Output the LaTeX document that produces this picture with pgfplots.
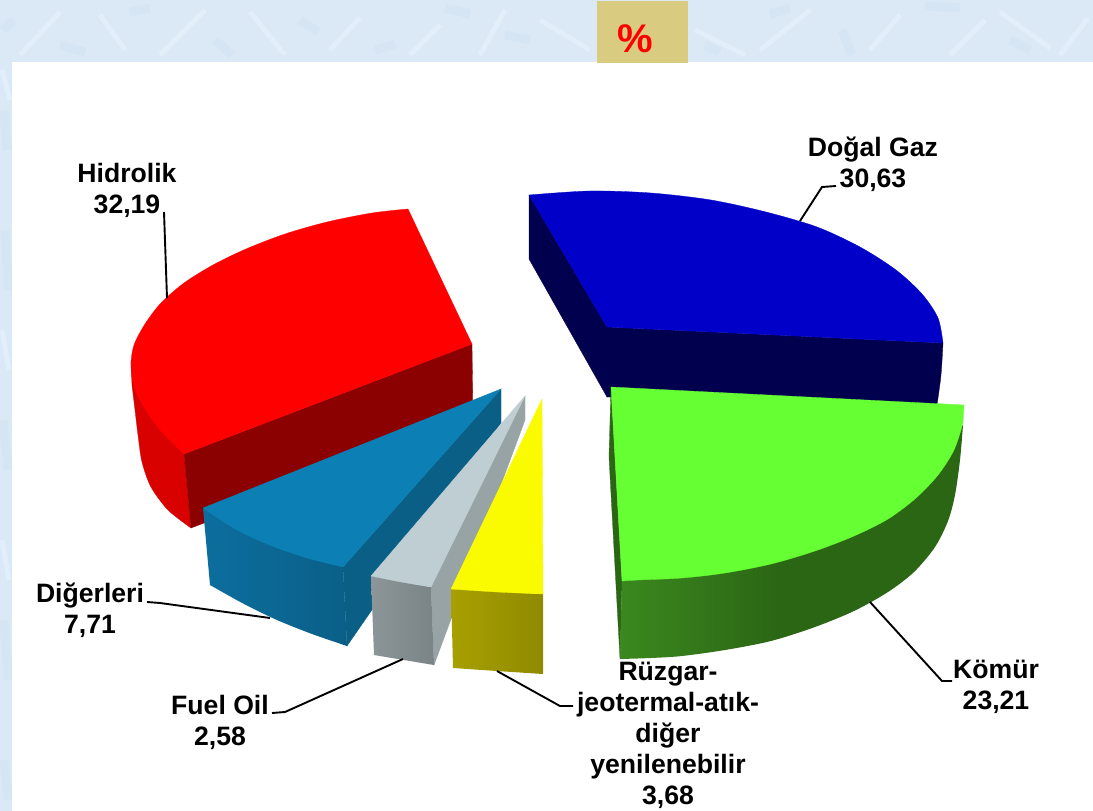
\documentclass[border=0pt]{standalone}
\usepackage{pgfplots}
\pgfplotsset{compat=1.18}
\usepackage{fontspec}
\setmainfont{Liberation Sans}
\definecolor{bgblue}{HTML}{DBE9F6}
\definecolor{bglight}{HTML}{E9F3FC}
\definecolor{bgdark}{HTML}{CDE0F1}
\definecolor{tanbox}{HTML}{D9CC80}
\definecolor{redtop}{HTML}{FF0000}
\definecolor{redside}{HTML}{D90000}
\definecolor{redfront}{HTML}{8B0000}
\definecolor{navytop}{HTML}{0000C8}
\definecolor{navyside}{HTML}{00004F}
\definecolor{greentop}{HTML}{66FF33}
\definecolor{greenA}{HTML}{3B881F}
\definecolor{greenB}{HTML}{2B6614}
\definecolor{bluetop}{HTML}{0C80B4}
\definecolor{blueA}{HTML}{0C6E9E}
\definecolor{blueB}{HTML}{0A5F87}
\definecolor{graytop}{HTML}{BFCED2}
\definecolor{grayside}{HTML}{97A3A4}
\definecolor{grayA}{HTML}{8C9698}
\definecolor{grayB}{HTML}{7A8486}
\definecolor{yellowtop}{HTML}{FBFB00}
\definecolor{yellowA}{HTML}{A8A000}
\definecolor{yellowB}{HTML}{8F8A00}
% left part of the green rim fades, the rest is flat
\pgfdeclarehorizontalshading{greenside}{100bp}{color(0bp)=(greenA); color(25bp)=(greenA); color(48bp)=(greenB); color(100bp)=(greenB)}
\pgfplotsset{
  face/.style={fill=#1,draw=#1,line width=0.3pt,mark=none},
  lead/.style={draw=black,line width=1.9pt,mark=none},
}
\newcommand{\lab}[3]{\node[align=center,font=\fontsize{26.6}{31}\selectfont\bfseries,inner sep=0pt] at (axis cs:#1,#2) {#3};}
\begin{document}
\begin{tikzpicture}
\begin{axis}[
  width=1093pt,height=811pt,scale only axis,
  xmin=0,xmax=1093,ymin=0,ymax=811,y dir=reverse,
  axis lines=none,enlargelimits=false,
  unbounded coords=jump,
]
% background and panel
\addplot[face=bgblue] coordinates {(0,0) (1093,0) (1093,811) (0,811)} --cycle;
\addplot[draw=bgdark,line width=9pt,opacity=0.35,mark=none] coordinates {
 (3,30) (14,20) (nan,nan) (60,45) (85,52) (nan,nan) (130,12) (150,8) (nan,nan) (215,40) (232,55) (nan,nan)
 (300,20) (318,32) (nan,nan) (375,50) (395,44) (nan,nan) (445,8) (470,14) (nan,nan) (505,35) (530,40) (nan,nan)
 (705,45) (720,52) (nan,nan) (770,14) (790,8) (nan,nan) (842,30) (852,55) (nan,nan) (925,6) (960,8) (nan,nan)
 (1010,40) (1030,50) (nan,nan) (4,110) (7,150) (nan,nan) (5,230) (8,290) (nan,nan) (3,420) (8,470) (nan,nan) (4,620) (8,680) (nan,nan) (4,760) (8,800)};
\addplot[draw=bglight,line width=5pt,opacity=0.5,mark=none] coordinates {
 (20,55) (60,12) (nan,nan) (100,15) (125,50) (nan,nan) (160,55) (205,10) (nan,nan) (250,12) (285,55) (nan,nan)
 (330,50) (360,18) (nan,nan) (410,55) (440,25) (nan,nan) (480,55) (505,10) (nan,nan) (540,20) (590,50) (nan,nan)
 (695,30) (745,55) (nan,nan) (760,50) (810,10) (nan,nan) (870,50) (900,15) (nan,nan) (950,55) (985,20) (nan,nan)
 (1000,12) (1050,48) (nan,nan) (1060,55) (1088,18) (nan,nan) (2,70) (10,100) (nan,nan) (2,330) (9,370) (nan,nan) (2,540) (9,580)};
\addplot[face=white] coordinates {(12,62) (1092,62) (1092,811) (12,811)} --cycle;
\addplot[face=tanbox] coordinates {(597,1) (687,1) (687,62) (597,62)} --cycle;
% Hidrolik
\addplot[face=redside,smooth] coordinates {(132,385) (135,410) (138,435) (142,462) (151,487) (168,510) (191,528)} -- (axis cs:184,454) -- (axis cs:131,362) -- cycle;
\addplot[face=redfront] coordinates {(184,454) (472,344) (473,420) (191,528)} --cycle;
\addplot[face=redtop,smooth] coordinates {(408,209) (372,213) (327,222) (285,234) (246,249) (213,265) (184,283) (161,303) (145,324) (134,345) (131,365) (134,387) (145,409) (161,431) (184,454)} -- (axis cs:472,344) -- cycle;
% Diğerleri
\addplot[face=blueB] coordinates {(501,389) (501,423) (347,646) (343,567)} --cycle;
\addplot[left color=blueA,right color=blueB,draw=none,mark=none,smooth] coordinates {(210,585) (244,604) (277,620) (312,634) (347,646)} -- (axis cs:343,567) -- (axis cs:203,508) -- cycle;
\addplot[face=bluetop,smooth] coordinates {(203,508) (237,530) (272,546) (307,558) (343,567)} -- (axis cs:501,389) -- cycle;
% Fuel Oil
\addplot[face=grayside] coordinates {(525,396) (525,420) (434,665) (431,587)} --cycle;
\addplot[left color=grayA,right color=grayB,draw=none,mark=none,smooth] coordinates {(374,655) (404,660) (434,665)} -- (axis cs:431,587) -- (axis cs:371,576) -- cycle;
\addplot[face=graytop,smooth] coordinates {(371,576) (401,582) (431,587)} -- (axis cs:525,396) -- cycle;
% Rüzgar
\addplot[left color=yellowA,right color=yellowB,draw=none,mark=none,smooth] coordinates {(453,668) (497,671) (543,674)} -- (axis cs:543,594) -- (axis cs:451,589) -- cycle;
\addplot[face=yellowtop,smooth] coordinates {(451,589) (497,592) (543,594)} -- (axis cs:542,399) -- cycle;
% Doğal Gaz
\addplot[face=navyside] coordinates {(529,195) (529,259) (607,397) (607,327)} --cycle;
\addplot[face=navyside,smooth] coordinates {(943,343) (941,375) (937,405)} -- (axis cs:607,397) -- (axis cs:607,327) -- cycle;
\addplot[face=navytop,smooth] coordinates {(529,195) (590,191) (651,193) (711,200) (766,212) (817,227) (860,247) (896,270) (922,294) (938,318) (943,343)} -- (axis cs:607,327) -- cycle;
% Kömür
\addplot[face=greenB] coordinates {(611,387) (609,457) (620,659) (622,581)} --cycle;
\addplot[shading=greenside,draw=none,mark=none,smooth] coordinates {(963,425) (960,460) (955,495) (948,521) (935,547) (914,572) (888,592) (854,611) (815,627) (771,641) (725,650) (682,656) (651,658) (620,659)} -- (axis cs:622,581) -- (axis cs:800,500) -- cycle;
\addplot[face=greentop,smooth] coordinates {(963,423) (954,450) (938,475) (916,498) (888,519) (854,536) (815,551) (771,564) (725,573) (682,578) (638,580) (622,581)} -- (axis cs:611,387) -- (axis cs:964,405) -- cycle;
% leader lines
\addplot[lead] coordinates {(800,221) (822,187) (836,186)};
\addplot[lead] coordinates {(164,212) (167,298)};
\addplot[lead] coordinates {(147,602) (160,603) (270,618)};
\addplot[lead] coordinates {(272,713) (285,712) (403,659)};
\addplot[lead] coordinates {(870,602) (942,681) (952,681)};
\addplot[lead] coordinates {(497,671) (560,706) (573,706)};
% labels
\node[font=\fontsize{40}{40}\selectfont\bfseries,text=red,inner sep=0pt] at (axis cs:635,39) {\%};
\lab{873}{164}{Doğal Gaz\\30,63}
\lab{127}{190}{Hidrolik\\32,19}
\lab{90}{610}{Diğerleri\\7,71}
\lab{220}{722}{Fuel Oil\\2,58}
\lab{996}{687}{Kömür\\23,21}
\lab{668}{735}{Rüzgar-\\jeotermal-atık-\\diğer\\yenilenebilir\\3,68}
\end{axis}
\end{tikzpicture}
\end{document}
